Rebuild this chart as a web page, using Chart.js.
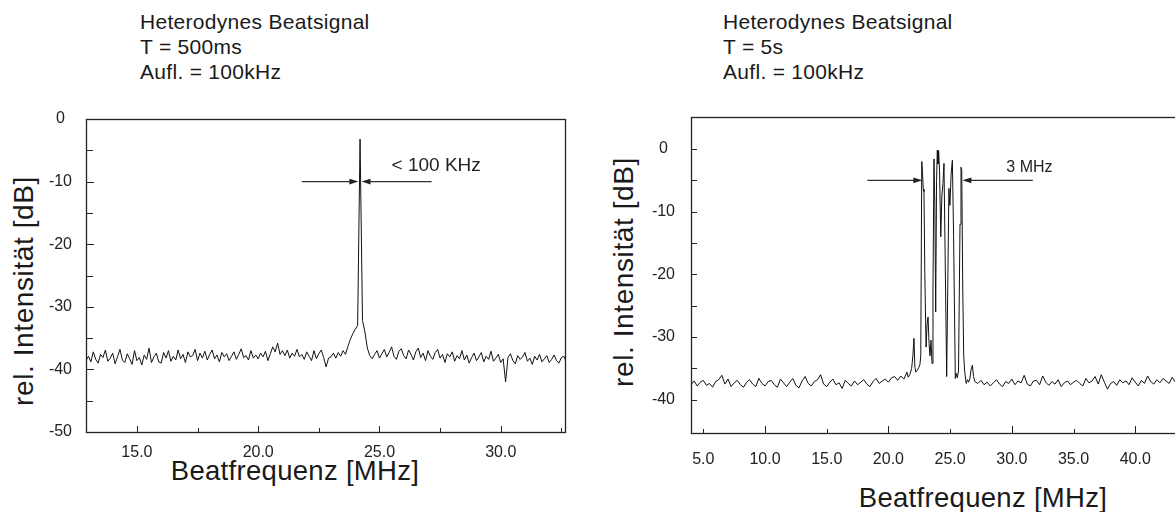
<!DOCTYPE html>
<html>
<head>
<meta charset="utf-8">
<script src="https://cdn.jsdelivr.net/npm/chart.js@4.4.1/dist/chart.umd.min.js"></script>
<style>
  html, body { margin: 0; padding: 0; background: #fff; }
  body { width: 1175px; height: 512px; overflow: hidden; position: relative;
         font-family: "Liberation Sans", Arial, sans-serif; color: #1a1a1a; }
  .head { position: absolute; top: 9px; font-size: 21px; line-height: 25px; letter-spacing: 0.3px; white-space: nowrap; }
  .ytitle { position: absolute; font-size: 28px; letter-spacing: 0.6px; white-space: nowrap;
            transform: translate(-50%, -50%) rotate(-90deg); }
  .xtitle { position: absolute; font-size: 27.5px; letter-spacing: 0.3px; white-space: nowrap;
            transform: translate(-50%, -50%); }
  canvas { position: absolute; top: 0; }
</style>
</head>
<body>
<div class="head" style="left:140px">Heterodynes Beatsignal<br>T = 500ms<br>Aufl. = 100kHz</div>
<div class="head" style="left:723px">Heterodynes Beatsignal<br>T = 5s<br>Aufl. = 100kHz</div>
<div class="ytitle" style="left:24px; top:291px">rel. Intensität [dB]</div>
<div class="ytitle" style="left:624px; top:272px">rel. Intensität [dB]</div>
<div class="xtitle" style="left:295px; top:471px">Beatfrequenz [MHz]</div>
<div class="xtitle" style="left:983px; top:498px">Beatfrequenz [MHz]</div>

<canvas id="left" width="590" height="512" style="left:0"></canvas>
<canvas id="right" width="600" height="512" style="left:600px"></canvas>

<script>
// ---- left spectrum: T = 500ms, sampled every 0.1 MHz from 12.9 MHz
const leftStart = 12.9;
const leftStep = 0.1;
const leftLevel = [
  -38.6, -37.9, -38.8, -37.2, -38.4, -39.0, -37.6, -38.1, -36.9, -38.7,
  -38.2, -37.4, -39.1, -38.0, -36.8, -38.5, -38.9, -37.5, -38.3, -39.2,
  -37.0, -38.6, -38.1, -39.3, -37.7, -38.4, -36.6, -38.9, -38.0, -37.4,
  -38.8, -39.0, -37.3, -38.2, -37.0, -38.7, -37.9, -38.5, -36.9, -38.3,
  -37.6, -38.9, -37.2, -38.0, -37.8, -36.8, -38.6, -37.4, -38.2, -37.1,
  -38.5, -37.6, -36.9, -38.3, -37.7, -38.8, -37.3, -38.0, -37.5, -38.6,
  -37.9, -37.2, -38.4, -37.6, -36.7, -38.1, -37.8, -38.5, -37.0, -38.2,
  -37.7, -38.3, -37.4, -38.0, -37.1, -38.6, -37.5, -36.4, -37.2, -35.8,
  -37.6, -37.0, -37.8, -36.9, -38.2, -37.4, -37.9, -36.8, -38.0, -37.6,
  -38.4, -37.2, -37.9, -38.6, -37.0, -38.3, -37.5, -36.9, -38.1, -39.6,
  -38.2, -38.0, -37.4, -38.2, -37.3, -37.9, -37.0, -37.6, -36.3, -35.2,
  -34.3, -33.6, -33.0, -3.2, -32.2, -34.0, -36.6, -37.8, -38.3, -37.6,
  -37.0, -38.2, -37.5, -36.8, -38.0, -37.3, -36.4, -37.9, -38.4, -37.1,
  -36.7, -37.8, -38.3, -36.9, -37.6, -38.5, -37.2, -36.6, -38.1, -37.4,
  -38.6, -37.0, -37.9, -38.4, -37.3, -36.8, -38.2, -37.6, -38.9, -37.5,
  -38.0, -37.2, -38.7, -37.8, -38.3, -37.0, -38.5, -37.7, -39.0, -38.1,
  -37.4, -38.6, -38.0, -37.3, -38.8, -37.9, -38.4, -37.1, -38.7, -38.2,
  -37.6, -38.9, -38.3, -42.0, -38.1, -37.5, -38.6, -39.1, -37.8, -38.4,
  -38.0, -37.3, -38.7, -38.2, -39.2, -37.9, -38.5, -37.6, -38.8, -38.3,
  -37.8, -38.9, -38.4, -37.7, -38.6, -39.0, -38.1, -37.9, -38.7
];
const leftXLabels = [15, 20, 25, 30];
const leftXMinor = [17.5, 22.5, 27.5, 32.5];
const leftYLabels = [0, -10, -20, -30, -40, -50];
const leftYMinor = [-5, -15, -25, -35, -45];
const leftArrowFrom = [21.8, 27.15];
const leftArrowTo = [24.13, 24.26];
const leftArrowLevel = -10;

// ---- right spectrum: T = 5s
const rightLowStart = 4.0;
const rightStep = 0.25;
const rightNoiseLow = [
  -37.6, -37.0, -37.8, -37.2, -36.9, -37.7, -37.4, -38.0,
  -37.1, -36.8, -36.1, -37.5, -36.7, -37.9, -37.3, -36.9,
  -37.6, -38.0, -37.2, -36.8, -37.5, -37.9, -36.6, -37.4,
  -37.8, -37.1, -36.9, -37.6, -38.0, -36.7, -37.3, -37.9,
  -37.2, -36.6, -37.7, -38.1, -37.0, -36.3, -37.4, -37.8,
  -37.1, -36.8, -36.0, -37.5, -37.9, -37.2, -36.7, -37.6,
  -37.3, -38.2, -36.9, -37.4, -37.8, -37.0, -37.6, -37.2,
  -36.8, -37.5, -37.9, -37.1, -36.6, -37.4, -37.0, -36.7,
  -37.2, -36.5, -36.3, -36.9, -36.2, -36.7, -35.6
];
const rightCoreFreq = [
  21.60, 21.75, 21.88, 21.98, 22.07, 22.14, 22.22, 22.34, 22.45, 22.55,
  22.62, 22.70, 22.76, 22.82, 22.88, 22.95, 23.05, 23.13, 23.21, 23.29,
  23.37, 23.45, 23.53, 23.61, 23.69, 23.76, 23.83, 23.90, 23.96, 24.01,
  24.07, 24.14, 24.24, 24.33, 24.42, 24.50, 24.60, 24.72, 24.82, 24.90,
  24.98, 25.08, 25.18, 25.28, 25.42, 25.50, 25.58, 25.68, 25.80, 25.88,
  25.94, 26.02, 26.10, 26.18, 26.30, 26.40, 26.50, 26.60, 26.70, 26.80,
  26.90, 27.00
];
const rightCoreLevel = [
  -36.4, -35.9, -35.0, -33.0, -30.2, -34.8, -35.6, -35.3, -34.9, -34.4,
  -33.0, -2.0, -3.6, -6.4, -6.8, -20.0, -31.6, -28.0, -26.8, -31.0,
  -33.0, -30.5, -34.2, -22.0, -1.6, -9.0, -26.0, -5.0, -0.2, -2.4,
  -0.3, -3.4, -14.0, -7.5, -5.5, -2.3, -18.0, -36.3, -20.0, -6.3,
  -9.0, -4.0, -1.8, -14.0, -36.6, -35.8, -36.5, -35.4, -12.0, -2.9,
  -3.3, -22.0, -33.0, -35.5, -37.4, -36.8, -37.2, -36.6, -35.2, -34.5,
  -36.3, -37.1
];
const rightHighStart = 27.25;
const rightNoiseHigh = [
  -37.4, -36.9, -37.6, -37.2, -37.8, -37.3, -36.8, -37.5,
  -37.9, -37.1, -37.4, -36.7, -37.6, -37.0, -37.3, -36.1,
  -37.5, -37.8, -37.0, -36.9, -37.6, -36.2, -37.2, -37.7,
  -37.1, -37.5, -36.8, -37.9, -37.3, -37.0, -37.6, -37.2,
  -36.9, -37.4, -37.8, -36.6, -37.3, -37.0, -36.3, -37.5,
  -36.0, -37.2, -38.3, -37.4, -37.1, -37.7, -36.8, -37.3,
  -37.0, -37.6, -36.5, -37.2, -37.8, -36.9, -37.4, -36.2,
  -37.1, -37.5, -36.8, -37.3, -36.6, -37.0, -37.4, -36.4,
  -37.2, -36.7
];
const rightXLabels = [5, 10, 15, 20, 25, 30, 35, 40];
const rightXMajor = [10, 20, 30, 40];
const rightXMinor = [5, 15, 25, 35];
const rightYLabels = [0, -10, -20, -30, -40];
const rightYMinor = [-5, -15, -25, -35];
const rightArrowFrom = [18.3, 31.7];
const rightArrowTo = [22.75, 25.99];
const rightArrowLevel = -5;

const FONT = '"Liberation Sans", Arial, sans-serif';
Chart.defaults.font.family = FONT;
Chart.defaults.color = '#222';

function sampled(start, step, values) {
  return values.map((v, i) => ({ x: +(start + i * step).toFixed(3), y: v }));
}

const leftPoints = sampled(leftStart, leftStep, leftLevel);
const rightPoints = sampled(rightLowStart, rightStep, rightNoiseLow)
  .concat(rightCoreFreq.map((f, i) => ({ x: f, y: rightCoreLevel[i] })))
  .concat(sampled(rightHighStart, rightStep, rightNoiseHigh));

// box, inward tick marks, arrows and the width note
const frame = {
  id: 'frame',
  afterDatasetsDraw(chart, args, o) {
    const { ctx, chartArea: a, scales: { x, y } } = chart;
    ctx.save();
    ctx.strokeStyle = '#222';
    ctx.lineWidth = 1.3;
    ctx.strokeRect(Math.round(a.left) + 0.5, Math.round(a.top) + 0.5,
      Math.round(a.right - a.left), Math.round(a.bottom - a.top));

    ctx.lineWidth = 1;
    ctx.beginPath();
    const xt = (vals, len) => vals.forEach(v => {
      const p = Math.round(x.getPixelForValue(v)) + 0.5;
      ctx.moveTo(p, a.bottom); ctx.lineTo(p, a.bottom - len);
    });
    const yt = (vals, len) => vals.forEach(v => {
      const p = Math.round(y.getPixelForValue(v)) + 0.5;
      ctx.moveTo(a.left, p); ctx.lineTo(a.left + len, p);
    });
    xt(o.xMajor, o.xMajorLen); xt(o.xMinor, o.xMinorLen);
    yt(o.yMajor, o.yMajorLen); yt(o.yMinor, o.yMinorLen);
    ctx.stroke();

    ctx.strokeStyle = '#333';
    ctx.fillStyle = '#222';
    ctx.lineWidth = 1.2;
    const py = y.getPixelForValue(o.arrowLevel);
    o.arrowFrom.forEach((f, i) => {
      const x1 = x.getPixelForValue(f), x2 = x.getPixelForValue(o.arrowTo[i]);
      const d = Math.sign(x2 - x1);
      ctx.beginPath(); ctx.moveTo(x1, py); ctx.lineTo(x2 - d * 8, py); ctx.stroke();
      ctx.beginPath();
      ctx.moveTo(x2, py); ctx.lineTo(x2 - d * 9, py - 2.8); ctx.lineTo(x2 - d * 9, py + 2.8);
      ctx.closePath(); ctx.fill();
    });

    ctx.font = o.noteSize + 'px ' + FONT;
    ctx.textAlign = 'left';
    ctx.textBaseline = 'middle';
    ctx.fillText(o.note, x.getPixelForValue(o.noteX), y.getPixelForValue(o.noteY));
    ctx.restore();
  }
};

function makeChart(id, cfg) {
  return new Chart(document.getElementById(id), {
    type: 'line',
    data: {
      datasets: [{
        data: cfg.points,
        borderColor: '#111',
        borderWidth: 1,
        pointRadius: 0,
        tension: 0,
        fill: false
      }]
    },
    options: {
      responsive: false,
      animation: false,
      events: [],
      layout: { padding: cfg.padding },
      plugins: { legend: { display: false }, tooltip: { enabled: false }, frame: cfg.frame },
      scales: {
        x: {
          type: 'linear',
          min: cfg.xMin, max: cfg.xMax,
          afterFit: s => { s.height = cfg.xHeight; },
          afterBuildTicks: s => { s.ticks = cfg.xLabels.map(v => ({ value: v })); },
          grid: { display: false, drawTicks: false },
          border: { display: false },
          ticks: { font: { size: 16 }, color: '#222', padding: cfg.xPad, maxRotation: 0, autoSkip: false,
                   callback: v => v.toFixed(1) }
        },
        y: {
          type: 'linear',
          min: cfg.yMin, max: cfg.yMax,
          afterFit: s => { s.width = cfg.yWidth; },
          afterBuildTicks: s => { s.ticks = cfg.yLabels.map(v => ({ value: v })); },
          grid: { display: false, drawTicks: false },
          border: { display: false },
          ticks: { font: { size: 16 }, color: '#222', padding: cfg.yPad, crossAlign: 'center',
                   callback: v => String(v) }
        }
      }
    },
    plugins: [frame]
  });
}

makeChart('left', {
  points: leftPoints,
  padding: { left: 0, top: 119, right: 25, bottom: 0 },
  xMin: 12.9, xMax: 32.65, xHeight: 80, xPad: 11, xLabels: leftXLabels,
  yMin: -50, yMax: 0, yWidth: 86, yPad: 14, yLabels: leftYLabels,
  frame: {
    xMajor: leftXLabels, xMinor: leftXMinor, xMajorLen: 6, xMinorLen: 4,
    yMajor: leftYLabels, yMinor: leftYMinor, yMajorLen: 8, yMinorLen: 7,
    arrowFrom: leftArrowFrom, arrowTo: leftArrowTo, arrowLevel: leftArrowLevel,
    note: '< 100 KHz', noteX: 25.5, noteY: -7.5, noteSize: 19
  }
});

makeChart('right', {
  points: rightPoints,
  padding: { left: 0, top: 117, right: 15.4, bottom: 0 },
  xMin: 4.0, xMax: 44.0, xHeight: 79, xPad: 17, xLabels: rightXLabels,
  yMin: -45.3, yMax: 5.1, yWidth: 91, yPad: 16, yLabels: rightYLabels,
  frame: {
    xMajor: rightXMajor, xMinor: rightXMinor, xMajorLen: 7, xMinorLen: 4,
    yMajor: rightYLabels, yMinor: rightYMinor, yMajorLen: 6, yMinorLen: 6,
    arrowFrom: rightArrowFrom, arrowTo: rightArrowTo, arrowLevel: rightArrowLevel,
    note: '3 MHz', noteX: 29.55, noteY: -2.9, noteSize: 16
  }
});
</script>
</body>
</html>
